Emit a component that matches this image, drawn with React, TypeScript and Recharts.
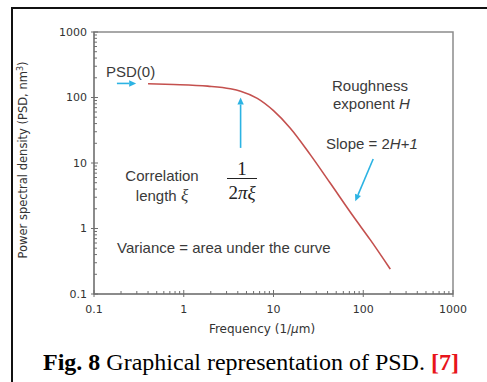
import { LineChart, Line, XAxis, YAxis, ReferenceArea, ReferenceLine } from "recharts";

// curve (frequency in 1/um, PSD in nm^3)
const freq = [0.4, 0.77, 1.85, 3.3, 4.3, 6.6, 10, 15.4, 25.8, 43, 77, 120, 200];
const psd = [162, 158, 149, 136, 125, 97, 63, 34, 13.3, 4.9, 1.55, 0.67, 0.24];

const majorTicks = [0.1, 1, 10, 100, 1000];
const majorLabels = ["0.1", "1", "10", "100", "1000"];
const minorSteps = [2, 3, 4, 5, 6, 7, 8, 9];

const data = freq.map((f, i) => ({ f, psd: psd[i] }));

const allTicks: number[] = [];
majorTicks.forEach((m, i) => {
  allTicks.push(m);
  if (i < majorTicks.length - 1) minorSteps.forEach((s) => allTicks.push(+(m * s).toPrecision(3)));
});

const AXIS = "#6e6e6e";
const TXT = "#333";
const CYAN = "#2cb3e3";
const RED = "#c4504e";

function labelOf(v: number) {
  const i = majorTicks.indexOf(v);
  return i >= 0 ? majorLabels[i] : null;
}

function XTick(props: any) {
  const { x, y, payload } = props;
  const lab = labelOf(payload.value);
  return (
    <g>
      <line x1={x} x2={x} y1={lab ? y - 4 : y - 3} y2={lab ? y + 3 : y} stroke={AXIS} />
      {lab && (
        <text x={x} y={y + 15} textAnchor="middle" dominantBaseline="central" fontSize={11} fill={TXT} fontFamily="DejaVu Sans">
          {lab}
        </text>
      )}
    </g>
  );
}

function YTick(props: any) {
  const { x, y, payload } = props;
  const lab = labelOf(payload.value);
  return (
    <g>
      <line x1={lab ? x - 3 : x} x2={lab ? x + 4 : x + 3} y1={y} y2={y} stroke={AXIS} />
      {lab && (
        <text x={x - 7} y={y} textAnchor="end" dominantBaseline="central" fontSize={11} fill={TXT} fontFamily="DejaVu Sans">
          {lab}
        </text>
      )}
    </g>
  );
}

function Arrow(props: any) {
  const { x1, y1, x2, y2 } = props;
  const a = Math.atan2(y2 - y1, x2 - x1);
  const L = 7;
  const W = 3.2;
  const bx = x2 - L * Math.cos(a);
  const by = y2 - L * Math.sin(a);
  const px = -Math.sin(a) * W;
  const py = Math.cos(a) * W;
  return (
    <g>
      <line x1={x1} y1={y1} x2={bx} y2={by} stroke={CYAN} strokeWidth={1.6} />
      <polygon points={`${x2},${y2} ${bx + px},${by + py} ${bx - px},${by - py}`} fill={CYAN} />
    </g>
  );
}

const sans = "'Liberation Sans', Arial, sans-serif";
const serif = "'Liberation Serif', 'Times New Roman', serif";

function Note({ x, y, children, center }: any) {
  return (
    <div
      style={{
        position: "absolute",
        left: x,
        top: y,
        transform: center ? "translate(-50%, -50%)" : "translateY(-50%)",
        fontFamily: sans,
        fontSize: 15,
        color: "#3a3a3a",
        whiteSpace: "nowrap",
        lineHeight: 1,
      }}
    >
      {children}
    </div>
  );
}

export default function App() {
  return (
    <div style={{ position: "absolute", left: 0, top: 0, width: 487, height: 382, background: "#fff", overflow: "hidden" }}>
      <div style={{ position: "absolute", left: 11, top: 7, width: 500, height: 400, borderLeft: "2px solid #111", borderTop: "2px solid #111" }} />
      <LineChart width={487} height={382} data={data} margin={{ top: 32, right: 34, bottom: 48, left: 34 }} style={{ position: "absolute", left: 0, top: 0 }}>
        <ReferenceArea x1={0.1} x2={1000} y1={0.1} y2={1000} fill="none" stroke="#8c8c8c" strokeWidth={1.5} />
        <XAxis
          dataKey="f"
          type="number"
          scale="log"
          domain={[0.1, 1000]}
          ticks={allTicks}
          interval={0}
          allowDataOverflow
          tickSize={0}
          tickMargin={0}
          tickLine={false}
          tick={<XTick />}
          height={40}
          stroke={AXIS}
        />
        <YAxis
          type="number"
          scale="log"
          domain={[0.1, 1000]}
          ticks={allTicks}
          interval={0}
          allowDataOverflow
          tickSize={0}
          tickMargin={0}
          tickLine={false}
          tick={<YTick />}
          width={60}
          stroke={AXIS}
        />
        <Line dataKey="psd" type="monotone" stroke={RED} strokeWidth={1.6} dot={false} isAnimationActive={false} />
        <ReferenceLine segment={[{ x: 0.18, y: 164 }, { x: 0.295, y: 164 }]} shape={<Arrow />} />
        <ReferenceLine segment={[{ x: 4.3, y: 17 }, { x: 4.3, y: 100 }]} shape={<Arrow />} />
        <ReferenceLine segment={[{ x: 129, y: 11.5 }, { x: 81.5, y: 2.6 }]} shape={<Arrow />} />
      </LineChart>

      <Note x={106} y={71}>PSD(0)</Note>
      <Note x={332} y={85}>Roughness</Note>
      <Note x={333} y={103}>
        exponent <i>H</i>
      </Note>
      <Note x={326} y={143}>
        Slope = 2<i>H</i>+<i>1</i>
      </Note>
      <Note x={162} y={175} center>
        Correlation
      </Note>
      <Note x={162} y={195} center>
        length <i style={{ fontFamily: serif, fontSize: 17 }}>ξ</i>
      </Note>
      <Note x={117} y={247}>Variance = area under the curve</Note>

      <div style={{ position: "absolute", left: 242, top: 168, transform: "translate(-50%, -50%)", fontFamily: serif, fontSize: 19, color: "#222", lineHeight: 1 }}>1</div>
      <div style={{ position: "absolute", left: 227, top: 178, width: 30, height: 0, borderTop: "1.3px solid #222" }} />
      <div style={{ position: "absolute", left: 242, top: 192, transform: "translate(-50%, -50%)", fontFamily: serif, fontSize: 19, color: "#222", lineHeight: 1, whiteSpace: "nowrap" }}>
        2<i>πξ</i>
      </div>

      <div style={{ position: "absolute", left: 262, top: 329, transform: "translate(-50%, -50%)", fontFamily: "DejaVu Sans", fontSize: 12, color: TXT, whiteSpace: "nowrap" }}>
        Frequency (1/<i>μ</i>m)
      </div>
      <div style={{ position: "absolute", left: 23, top: 160, transform: "translate(-50%, -50%) rotate(-90deg)", fontFamily: "DejaVu Sans", fontSize: 11.5, color: TXT, whiteSpace: "nowrap" }}>
        Power spectral density (PSD, nm<sup style={{ fontSize: 8 }}>3</sup>)
      </div>

      <div style={{ position: "absolute", left: 43, top: 362, transform: "translateY(-50%)", fontFamily: serif, fontSize: 24, color: "#000", whiteSpace: "nowrap", lineHeight: 1 }}>
        <b>Fig. 8</b> Graphical representation of PSD. <b style={{ color: "#e8141b" }}>[7]</b>
      </div>
    </div>
  );
}
